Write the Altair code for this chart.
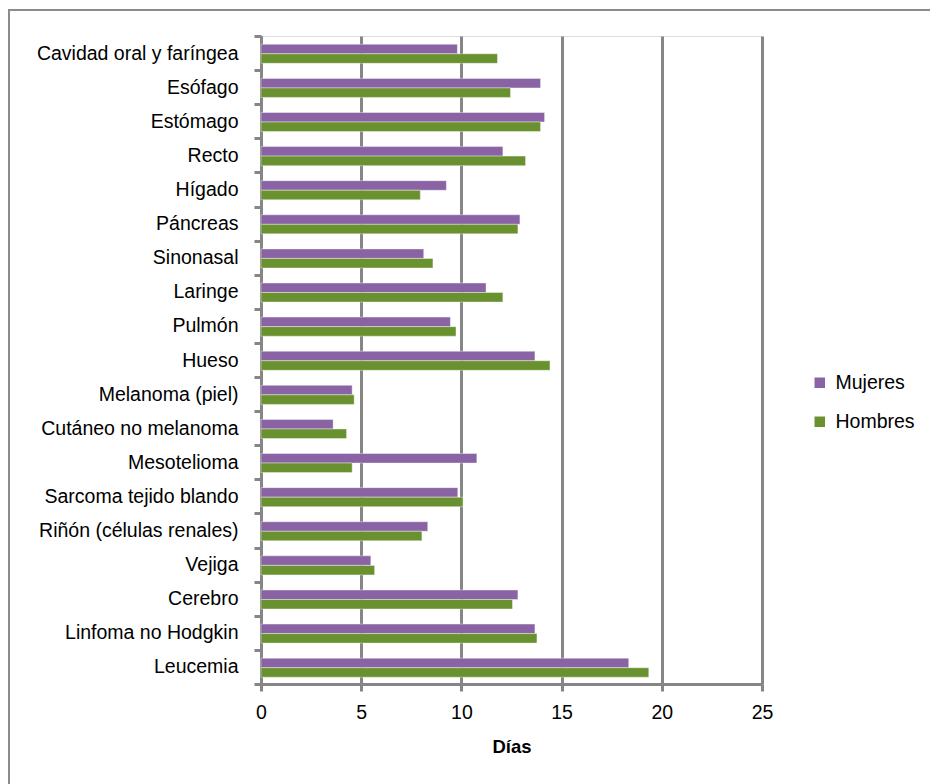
import altair as alt
import pandas as pd

categories = [
    "Cavidad oral y faríngea", "Esófago", "Estómago", "Recto", "Hígado",
    "Páncreas", "Sinonasal", "Laringe", "Pulmón", "Hueso",
    "Melanoma (piel)", "Cutáneo no melanoma", "Mesotelioma",
    "Sarcoma tejido blando", "Riñón (células renales)", "Vejiga",
    "Cerebro", "Linfoma no Hodgkin", "Leucemia",
]
mujeres = [9.8, 13.95, 14.15, 12.07, 9.25, 12.92, 8.12, 11.23, 9.45, 13.67,
           4.55, 3.6, 10.77, 9.82, 8.32, 5.48, 12.82, 13.67, 18.35]
hombres = [11.8, 12.45, 13.95, 13.2, 7.95, 12.82, 8.58, 12.07, 9.73, 14.42,
           4.65, 4.27, 4.55, 10.08, 8.03, 5.67, 12.55, 13.77, 19.35]
series = ["Mujeres", "Hombres"]
colors = ["#8963A4", "#6A912F"]
x_ticks = [0, 5, 10, 15, 20, 25]

rows = []
for c, m, h in zip(categories, mujeres, hombres):
    rows.append({"cat": c, "serie": "Mujeres", "dias": m})
    rows.append({"cat": c, "serie": "Hombres", "dias": h})
df = pd.DataFrame(rows)

FONT = "Liberation Sans"
GRAY = "#868686"
FS = 19.5

bars = alt.Chart(df).mark_bar(strokeWidth=0.8, strokeOpacity=0.5, stroke="white").encode(
    x=alt.X("dias:Q", scale=alt.Scale(domain=[0, 25], nice=False),
            axis=alt.Axis(values=x_ticks, title="Días", grid=True, gridColor=GRAY,
                          gridWidth=3, domainColor=GRAY, domainWidth=3,
                          tickColor=GRAY, tickWidth=3, tickSize=7, labelFlush=False,
                          labelFontSize=FS, labelColor="black", labelPadding=12,
                          labelFont=FONT, titleFont=FONT, titleFontSize=18.5,
                          titleFontWeight="bold", titleColor="black", titlePadding=16)),
    y=alt.Y("cat:N", sort=categories,
            scale=alt.Scale(paddingInner=0, paddingOuter=0),
            axis=alt.Axis(title=None, domainColor=GRAY, domainWidth=3,
                          tickColor=GRAY, tickWidth=3, tickSize=7, tickBand="extent",
                          labelFontSize=FS, labelColor="black", labelPadding=16,
                          labelLimit=400, labelFont=FONT, grid=False)),
    yOffset=alt.YOffset("serie:N", sort=series,
                        scale=alt.Scale(paddingInner=0, paddingOuter=0.79, align=0.55)),
    color=alt.Color("serie:N", scale=alt.Scale(domain=series, range=colors),
                    legend=alt.Legend(title=None, orient="none", legendX=549, legendY=337,
                                      symbolType="square", symbolSize=110,
                                      symbolStrokeWidth=0, labelFontSize=FS,
                                      labelFont=FONT, labelColor="black",
                                      rowPadding=18, labelOffset=6)),
)

border = alt.Chart(alt.Data(values=[{}])).mark_rect(
    fill=None, stroke="#8C8C8C", strokeWidth=2
).encode(
    x=alt.value(-252), x2=alt.value(720), y=alt.value(-26), y2=alt.value(800)
)

chart = alt.layer(bars, border).properties(
    width=501, height=648,
    padding={"left": 261, "top": 36, "right": 168, "bottom": 100},
    autosize=alt.AutoSizeParams(type="none"),
).configure_view(stroke=None).configure(font=FONT)

chart.save("out.html", embed_options={"renderer": "svg", "actions": False})
